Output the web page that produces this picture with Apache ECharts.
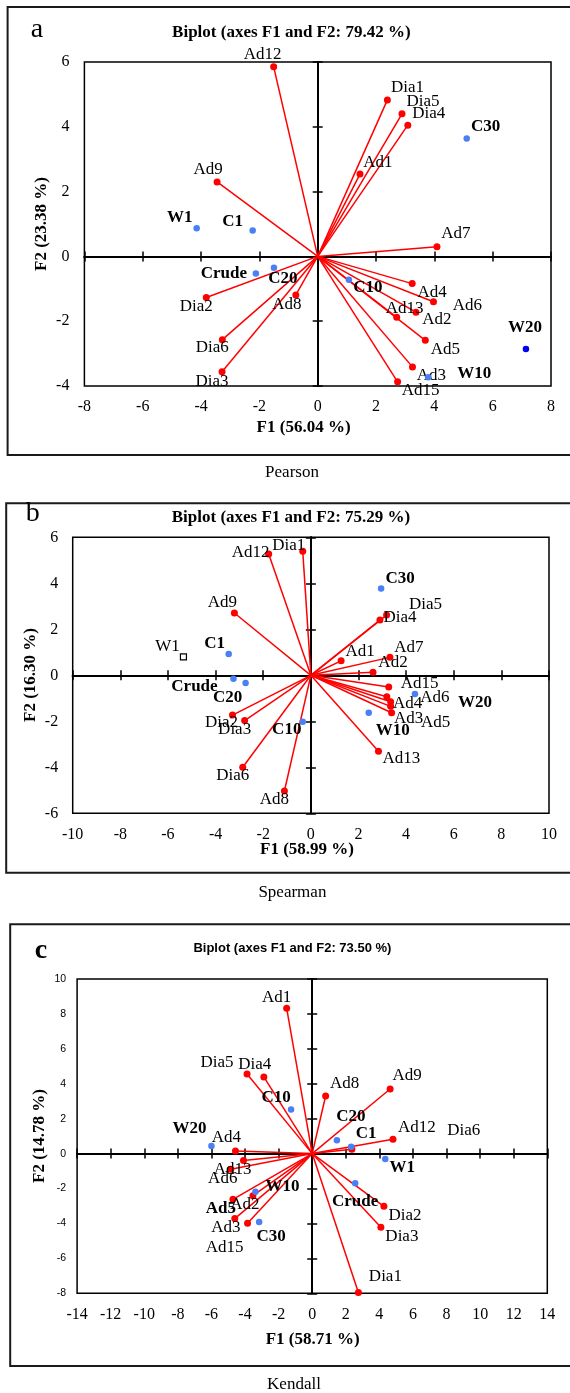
<!DOCTYPE html>
<html><head><meta charset="utf-8">
<script src="https://cdn.jsdelivr.net/npm/echarts@6/dist/echarts.min.js"></script>
<style>html,body{margin:0;padding:0;background:#fff}#c{width:570px;height:1393px}</style>
</head><body><div id="c"></div>
<script>
// ---- Panel a: Pearson ----
const pearsonVarNames = ['Ad12','Dia1','Dia5','Dia4','Ad1','Ad9','Ad7','Ad4','Ad6','Ad2','Ad13','Ad5','Ad3','Ad15','Dia2','Ad8','Dia6','Dia3'];
const pearsonVarF1 = [-1.51,2.39,2.89,3.09,1.45,-3.45,4.09,3.24,3.97,3.37,2.71,3.69,3.25,2.74,-3.82,-0.75,-3.27,-3.28];
const pearsonVarF2 = [5.85,4.83,4.40,4.05,2.54,2.30,0.30,-0.84,-1.40,-1.72,-1.88,-2.59,-3.41,-3.87,-1.27,-1.19,-2.57,-3.56];
const pearsonObsNames = ['C30','W1','C1','Crude','C20','C10','W10','W20'];
const pearsonObsF1 = [5.11,-4.15,-2.23,-2.12,-1.50,1.07,3.79,7.14];
const pearsonObsF2 = [3.64,0.87,0.80,-0.53,-0.35,-0.72,-3.73,-2.86];
const pearsonXTicks = [-8,-6,-4,-2,0,2,4,6,8];
const pearsonYTicks = [-4,-2,0,2,4,6];

// ---- Panel b: Spearman ----
const spearmanVarNames = ['Ad12','Dia1','Ad9','Dia5','Dia4','Ad1','Ad7','Ad2','Ad15','Ad6','Ad4','Ad3','Ad5','Dia2','Dia3','Dia6','Ad8','Ad13'];
const spearmanVarF1 = [-1.77,-0.34,-3.21,3.18,2.90,1.27,3.32,2.61,3.27,3.19,3.35,3.35,3.39,-3.29,-2.78,-2.86,-1.11,2.84];
const spearmanVarF2 = [5.27,5.39,2.71,2.62,2.40,0.63,0.78,0.13,-0.51,-0.93,-1.15,-1.35,-1.63,-1.73,-1.97,-4.00,-5.03,-3.30];
const spearmanObsNames = ['C30','C1','W1','Crude','C20','C10','W20','W10'];
const spearmanObsF1 = [2.95,-3.45,-5.35,-3.25,-2.74,-0.34,4.37,2.43];
const spearmanObsF2 = [3.77,0.93,0.80,-0.15,-0.33,-2.02,-0.81,-1.63];
const spearmanXTicks = [-10,-8,-6,-4,-2,0,2,4,6,8,10];
const spearmanYTicks = [-6,-4,-2,0,2,4,6];

// ---- Panel c: Kendall ----
const kendallVarNames = ['Ad1','Dia5','Dia4','Ad8','Ad9','Ad12','Dia6','Ad4','Ad13','Ad6','Dia2','Dia3','Ad5','Ad2','Ad3','Ad15','Dia1'];
const kendallVarF1 = [-1.52,-3.88,-2.88,0.80,4.64,4.81,2.36,-4.57,-4.09,-4.85,4.27,4.09,-4.72,-3.53,-4.61,-3.85,2.75];
const kendallVarF2 = [8.32,4.56,4.39,3.30,3.70,0.82,0.25,0.15,-0.40,-0.90,-3.02,-4.22,-2.62,-2.41,-3.72,-3.99,-7.96];
const kendallObsNames = ['C10','C20','C1','W20','W1','W10','Crude','C30'];
const kendallObsF1 = [-1.26,1.47,2.32,-6.00,4.35,-3.38,2.56,-3.16];
const kendallObsF2 = [2.52,0.76,0.40,0.44,-0.31,-2.18,-1.70,-3.92];
const kendallXTicks = [-14,-12,-10,-8,-6,-4,-2,0,2,4,6,8,10,12,14];
const kendallYTicks = [-8,-6,-4,-2,0,2,4,6,8,10];

// ---- label placement (layout only) ----
const pearsonLabelOffsets = {
  Ad12:[-11,-12],Dia1:[20,-12],Dia5:[21,-12],Dia4:[21,-12],Ad1:[18,-12],Ad9:[-9,-12],Ad7:[19,-13],
  Ad4:[20,9],Ad6:[34,4],Ad2:[21,7],Ad13:[8,-9],Ad5:[20,9],Ad3:[19,9],Ad15:[23,9],Dia2:[-10,9],
  Ad8:[-9,10],Dia6:[-10,8],Dia3:[-10,10],
  C30:[19,-12],W1:[-17,-11],C1:[-20,-9],Crude:[-32,0],C20:[9,11],C10:[19,8],W10:[46,-4],W20:[-1,-21]
};
const spearmanLabelOffsets = {
  Ad12:[-18,-2],Dia1:[-14,-6],Ad9:[-12,-10],Dia5:[39,-11],Dia4:[20,-3],Ad1:[19,-9],Ad7:[19,-10],
  Ad2:[20,-10],Ad15:[31,-3],Ad6:[48,1],Ad4:[17,2],Ad3:[18,12],Ad5:[44,10],Dia2:[-11,7],Dia3:[-10,9],
  Dia6:[-10,8],Ad8:[-10,9],Ad13:[23,7],
  C30:[19,-10],C1:[-14,-10],W1:[-16,-10],Crude:[-39,8],C20:[-18,15],C10:[-16,8],W20:[60,9],W10:[24,18]
};
const kendallLabelOffsets = {
  Ad1:[-10,-11],Dia5:[-30,-11],Dia4:[-9,-12],Ad8:[19,-12],Ad9:[17,-13],Ad12:[24,-12],Dia6:[112,-19],
  Ad4:[-9,-13],Ad13:[-11,9],Ad6:[-8,9],Dia2:[21,9],Dia3:[21,9],Ad5:[-12,9],Ad2:[-8,9],Ad3:[-9,9],
  Ad15:[-23,24],Dia1:[27,-16],
  C10:[-15,-12],C20:[14,-24],C1:[15,-13],W20:[-22,-17],W1:[17,9],W10:[27,-5],Crude:[0,18],C30:[12,15]
};

const SERIF = '"Liberation Serif","Times New Roman",serif';
const SANS = '"Liberation Sans",Arial,sans-serif';
const RED = '#ff0000', BLUE = '#4a7ff5';

const panels = [
  {vn:pearsonVarNames,vx:pearsonVarF1,vy:pearsonVarF2,on:pearsonObsNames,ox:pearsonObsF1,oy:pearsonObsF2,
   xt:pearsonXTicks,yt:pearsonYTicks,off:pearsonLabelOffsets,
   grid:{left:84.4,top:62,width:466.6,height:324},yLabelMargin:15,yLabelFont:{fontFamily:SERIF,fontSize:16}},
  {vn:spearmanVarNames,vx:spearmanVarF1,vy:spearmanVarF2,on:spearmanObsNames,ox:spearmanObsF1,oy:spearmanObsF2,
   xt:spearmanXTicks,yt:spearmanYTicks,off:spearmanLabelOffsets,
   grid:{left:72.7,top:537.3,width:476.3,height:276},yLabelMargin:14.5,yLabelFont:{fontFamily:SERIF,fontSize:16}},
  {vn:kendallVarNames,vx:kendallVarF1,vy:kendallVarF2,on:kendallObsNames,ox:kendallObsF1,oy:kendallObsF2,
   xt:kendallXTicks,yt:kendallYTicks,off:kendallLabelOffsets,
   grid:{left:77.1,top:979,width:470.2,height:314.3},yLabelMargin:11,yLabelFont:{fontFamily:SANS,fontSize:10.5}}
];

const grids=[], xAxes=[], yAxes=[], series=[];
panels.forEach((p,i)=>{
  grids.push(Object.assign({show:true,borderColor:'#000',borderWidth:1.5,backgroundColor:'transparent'},p.grid));
  const xr={min:p.xt[0],max:p.xt[p.xt.length-1],interval:p.xt[1]-p.xt[0]};
  const yr={min:p.yt[0],max:p.yt[p.yt.length-1],interval:p.yt[1]-p.yt[0]};
  const base={gridIndex:i,type:'value',splitLine:{show:false}};
  xAxes.push(Object.assign({},base,xr,{position:'bottom',axisLine:{show:false,onZero:false},axisTick:{show:false},
    axisLabel:{margin:13,color:'#000',fontFamily:SERIF,fontSize:16}}));
  [true,false].forEach(ins=>{
    xAxes.push(Object.assign({},base,xr,{axisLine:{show:true,onZero:true,lineStyle:{color:'#000',width:2}},
      axisTick:{show:true,inside:ins,length:5,lineStyle:{color:'#000',width:1.5}},axisLabel:{show:false}}));
  });
  yAxes.push(Object.assign({},base,yr,{position:'left',axisLine:{show:false,onZero:false},axisTick:{show:false},
    axisLabel:Object.assign({margin:p.yLabelMargin,color:'#000'},p.yLabelFont)}));
  [true,false].forEach(ins=>{
    yAxes.push(Object.assign({},base,yr,{axisLine:{show:true,onZero:true,lineStyle:{color:'#000',width:2}},
      axisTick:{show:true,inside:ins,length:5,lineStyle:{color:'#000',width:1.5}},axisLabel:{show:false}}));
  });
  const xi=3*i, yi=3*i;
  series.push({type:'lines',coordinateSystem:'cartesian2d',xAxisIndex:xi,yAxisIndex:yi,z:3,silent:true,
    lineStyle:{color:RED,width:1.5,opacity:1},
    data:p.vn.map((n,k)=>({coords:[[0,0],[p.vx[k],p.vy[k]]]}))});
  const lab=(n,bold)=>({show:true,position:'inside',formatter:'{b}',color:'#000',fontFamily:SERIF,fontSize:17,
    fontWeight:bold?'bold':'normal',offset:p.off[n]||[0,-12]});
  series.push({type:'scatter',xAxisIndex:xi,yAxisIndex:yi,z:4,symbol:'circle',symbolSize:7,
    itemStyle:{color:RED,opacity:1},
    data:p.vn.map((n,k)=>{
      const d={name:n,value:[p.vx[k],p.vy[k]],label:lab(n,false)};
      if(i===2&&n==='Ad5') d.label.fontWeight='bold';
      return d;})});
  series.push({type:'scatter',xAxisIndex:xi,yAxisIndex:yi,z:5,symbol:'circle',symbolSize:6.5,
    itemStyle:{color:BLUE,opacity:1},
    data:p.on.map((n,k)=>{
      const d={name:n,value:[p.ox[k],p.oy[k]],label:lab(n,true)};
      if(i===0&&n==='W20') d.itemStyle={color:'#0000f0'};
      if(i===1&&n==='W1'){d.symbol='rect';d.symbolSize=6;d.itemStyle={color:'#fff',borderColor:'#000',borderWidth:1.2};d.label.fontWeight='normal';}
      return d;})});
});

function txt(text,x,y,font,rot){
  return {type:'text',x:x,y:y,rotation:rot||0,z:10,silent:true,
    style:{text:text,x:0,y:0,align:'center',verticalAlign:'middle',fill:'#000',font:font}};
}
function box(x,y,h){
  return {type:'rect',z:0,silent:true,shape:{x:x,y:y,width:600,height:h},style:{fill:'none',stroke:'#1a1a1a',lineWidth:2}};
}
const graphic=[
  box(7.6,7,448), box(6.2,503.3,369.4), box(10.2,924.3,441.7),
  txt('a',37,30,'28px '+SERIF),
  txt('Biplot (axes F1 and F2: 79.42 %)',291.3,33,'bold 17px '+SERIF),
  txt('F2 (23.38 %)',41.8,224,'bold 17px '+SERIF,Math.PI/2),
  txt('F1 (56.04 %)',303.6,427.7,'bold 17px '+SERIF),
  txt('Pearson',292,473,'17px '+SERIF),
  txt('b',32.7,514,'28px '+SERIF),
  txt('Biplot (axes F1 and F2: 75.29 %)',291,517.7,'bold 17px '+SERIF),
  txt('F2 (16.30 %)',31,675,'bold 17px '+SERIF,Math.PI/2),
  txt('F1 (58.99 %)',307,850,'bold 17px '+SERIF),
  txt('Spearman',292.4,892.7,'17px '+SERIF),
  txt('c',41,951,'bold 28px '+SERIF),
  txt('Biplot (axes F1 and F2: 73.50 %)',292.4,948.3,'bold 13px '+SANS),
  txt('F2 (14.78 %)',40,1136,'bold 17px '+SERIF,Math.PI/2),
  txt('F1 (58.71 %)',312.7,1339.3,'bold 17px '+SERIF),
  txt('Kendall',294,1385,'17px '+SERIF)
];

const chart=echarts.init(document.getElementById('c'),null,{renderer:'canvas'});
chart.setOption({animation:false,backgroundColor:'#fff',grid:grids,xAxis:xAxes,yAxis:yAxes,series:series,graphic:graphic});
</script></body></html>
